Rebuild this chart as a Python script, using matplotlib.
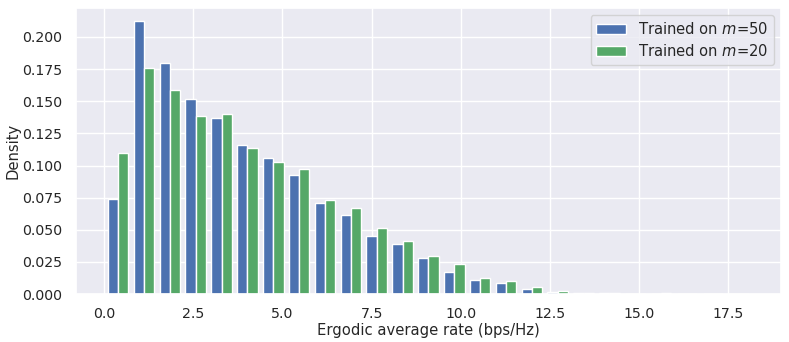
import matplotlib
matplotlib.use("Agg")
import matplotlib.pyplot as plt
import numpy as np
import seaborn as sns

# histogram bins (bps/Hz) and density per bin
bin_start = 0.03
bin_width = 0.725
n_bins = 25

density_m50 = [0.074, 0.212, 0.180, 0.152, 0.137, 0.116, 0.1057, 0.0927, 0.0708, 0.0617,
               0.0455, 0.039, 0.0278, 0.0174, 0.0109, 0.0088, 0.0039, 0.002, 0.001, 0.0008,
               0.0003, 0.0004, 0.0002, 0.0001, 0.0001]
density_m20 = [0.110, 0.176, 0.159, 0.1388, 0.140, 0.114, 0.1026, 0.0971, 0.0734, 0.0669,
               0.0513, 0.0414, 0.0299, 0.0231, 0.0127, 0.0104, 0.0057, 0.0028, 0.0012, 0.001,
               0.0004, 0.0008, 0.0003, 0.0004, 0.0002]
labels = [r'Trained on $m$=50', r'Trained on $m$=20']

sns.set_theme()
plt.rcParams['font.family'] = ['DejaVu Sans']
plt.rcParams['xtick.labelsize'] = 10.2
plt.rcParams['ytick.labelsize'] = 10.2
plt.rcParams['axes.labelsize'] = 10.6
plt.rcParams['legend.fontsize'] = 10.6

edges = bin_start + bin_width * np.arange(n_bins + 1)
centers = (edges[:-1] + edges[1:]) / 2

fig, ax = plt.subplots(figsize=(7.89, 3.42), dpi=100)
ax.hist([centers, centers], bins=edges, weights=[density_m50, density_m20],
        label=labels, color=['#4C72B0', '#55A868'])
ax.set_xlabel('Ergodic average rate (bps/Hz)', labelpad=1)
ax.set_ylabel('Density', labelpad=1.5)
ax.legend(loc='upper right', frameon=True, labelspacing=0.4)
fig.subplots_adjust(left=0.096, right=0.99, top=0.977, bottom=0.14)
fig.savefig('out.png', dpi=100)
